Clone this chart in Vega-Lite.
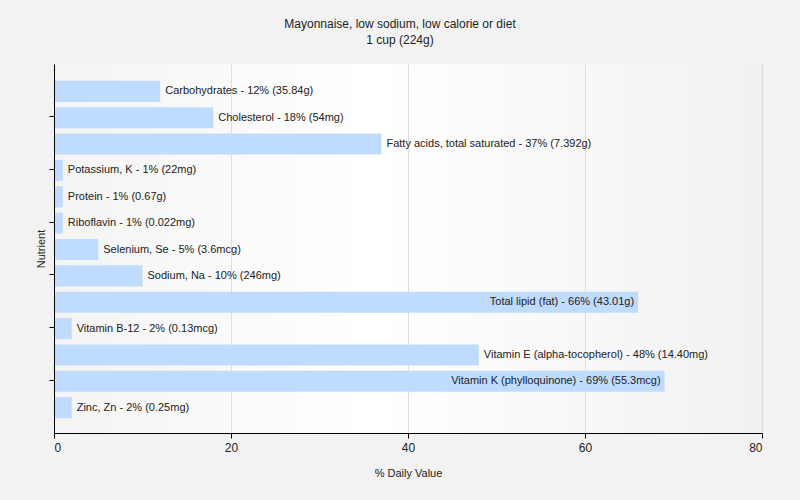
{
  "$schema": "https://vega.github.io/schema/vega-lite/v6.json",
  "width": 708,
  "height": 369,
  "autosize": "none",
  "padding": {"left": 54, "top": 64, "right": 38, "bottom": 67},
  "background": "#f2f2f2",
  "title": {
    "text": "Mayonnaise, low sodium, low calorie or diet",
    "subtitle": "1 cup (224g)",
    "anchor": "middle",
    "dx": -8,
    "offset": 17,
    "font": "Liberation Sans",
    "fontSize": 12,
    "fontWeight": "normal",
    "color": "#222222",
    "subtitleFont": "Liberation Sans",
    "subtitleFontSize": 12,
    "subtitleColor": "#222222",
    "subtitlePadding": 4
  },
  "config": {
    "view": {
      "stroke": null,
      "fill": {
        "gradient": "linear",
        "x1": 0, "y1": 0, "x2": 1, "y2": 0,
        "stops": [
          {"offset": 0, "color": "#f4f4f4"},
          {"offset": 0.45, "color": "#ffffff"},
          {"offset": 1, "color": "#f1f1f1"}
        ]
      }
    },
    "font": "Liberation Sans",
    "axis": {
      "labelFont": "Liberation Sans",
      "titleFont": "Liberation Sans",
      "titleFontWeight": "normal",
      "domainColor": "#000000",
      "tickColor": "#000000",
      "labelColor": "#222222",
      "titleColor": "#222222"
    }
  },
  "data": {
    "values": [
      {"nutrient": "Carbohydrates", "value": 12, "label": "Carbohydrates - 12% (35.84g)"},
      {"nutrient": "Cholesterol", "value": 18, "label": "Cholesterol - 18% (54mg)"},
      {"nutrient": "Fatty acids, total saturated", "value": 37, "label": "Fatty acids, total saturated - 37% (7.392g)"},
      {"nutrient": "Potassium, K", "value": 1, "label": "Potassium, K - 1% (22mg)"},
      {"nutrient": "Protein", "value": 1, "label": "Protein - 1% (0.67g)"},
      {"nutrient": "Riboflavin", "value": 1, "label": "Riboflavin - 1% (0.022mg)"},
      {"nutrient": "Selenium, Se", "value": 5, "label": "Selenium, Se - 5% (3.6mcg)"},
      {"nutrient": "Sodium, Na", "value": 10, "label": "Sodium, Na - 10% (246mg)"},
      {"nutrient": "Total lipid (fat)", "value": 66, "label": "Total lipid (fat) - 66% (43.01g)"},
      {"nutrient": "Vitamin B-12", "value": 2, "label": "Vitamin B-12 - 2% (0.13mcg)"},
      {"nutrient": "Vitamin E (alpha-tocopherol)", "value": 48, "label": "Vitamin E (alpha-tocopherol) - 48% (14.40mg)"},
      {"nutrient": "Vitamin K (phylloquinone)", "value": 69, "label": "Vitamin K (phylloquinone) - 69% (55.3mcg)"},
      {"nutrient": "Zinc, Zn", "value": 2, "label": "Zinc, Zn - 2% (0.25mg)"}
    ]
  },
  "encoding": {
    "y": {
      "field": "nutrient",
      "type": "nominal",
      "sort": null,
      "scale": {"paddingInner": 0.2, "paddingOuter": 0.6},
      "axis": {
        "title": "Nutrient",
        "labels": false,
        "ticks": true,
        "tickSize": 5,
        "zindex": 1,
        "values": ["Cholesterol", "Potassium, K", "Riboflavin", "Sodium, Na", "Vitamin B-12", "Vitamin K (phylloquinone)"],
        "titleFontSize": 11,
        "titlePadding": 2
      }
    },
    "x": {
      "field": "value",
      "type": "quantitative",
      "scale": {"domain": [0, 80], "nice": false},
      "axis": {
        "title": "% Daily Value",
        "values": [0, 20, 40, 60, 80],
        "grid": true,
        "gridColor": "#dddddd",
        "tickSize": 5,
        "labelFontSize": 12,
        "labelPadding": 4,
        "titleFontSize": 11,
        "titlePadding": 14
      }
    }
  },
  "layer": [
    {"mark": {"type": "bar", "color": "#bfdbfe", "yOffset": 1}},
    {
      "transform": [{"filter": "datum.value < 60"}],
      "mark": {"type": "text", "align": "left", "dx": 5, "dy": 1, "fontSize": 11, "color": "#222222", "font": "Liberation Sans"},
      "encoding": {"text": {"field": "label"}}
    },
    {
      "transform": [{"filter": "datum.value >= 60"}],
      "mark": {"type": "text", "align": "right", "dx": -4, "dy": 1, "fontSize": 11, "color": "#222222", "font": "Liberation Sans"},
      "encoding": {"text": {"field": "label"}}
    }
  ]
}
